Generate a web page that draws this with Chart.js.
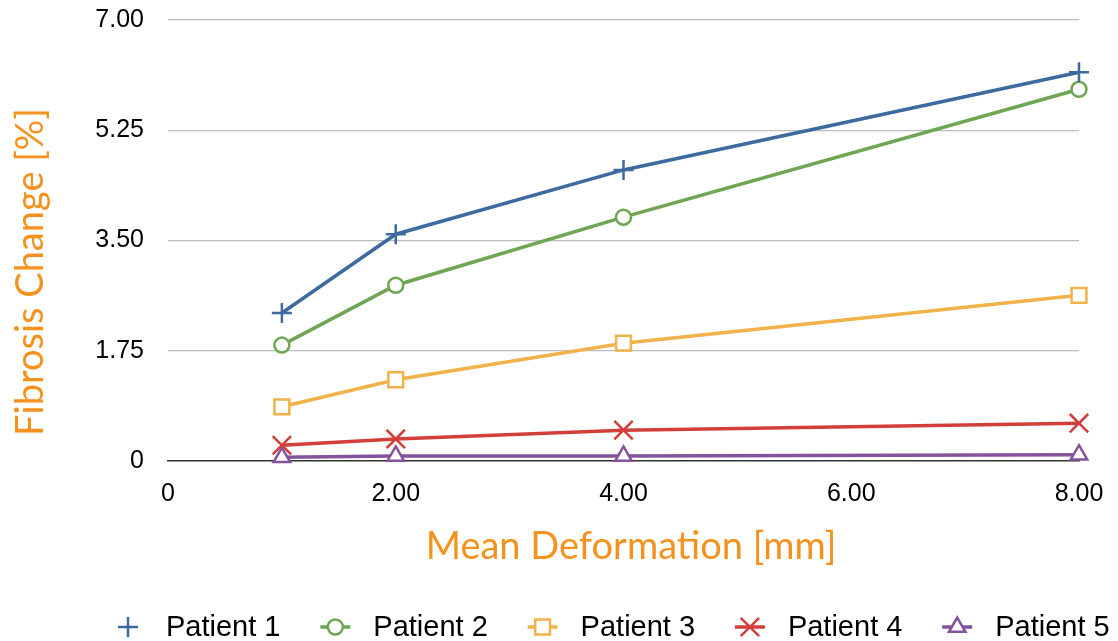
<!DOCTYPE html>
<html lang="en">
<head>
<meta charset="UTF-8">
<title>Fibrosis Change</title>
<style>
    html, body { margin: 0; padding: 0; background: #fff; }
    #wrap { width: 1118px; height: 641px; }
</style>
</head>
<body>
<div id="wrap"><canvas id="chart" width="1118" height="641"></canvas></div>

<script src="https://cdn.jsdelivr.net/npm/chart.js@4.4.1/dist/chart.umd.min.js"></script>
<script>
    // data
    const deformation = [1, 2, 4, 8];
    const patient1 = [2.35, 3.60, 4.62, 6.17];
    const patient2 = [1.84, 2.79, 3.87, 5.90];
    const patient3 = [0.86, 1.29, 1.87, 2.63];
    const patient4 = [0.25, 0.35, 0.49, 0.60];
    const patient5 = [0.06, 0.08, 0.08, 0.10];
    const seriesNames = ["Patient 1", "Patient 2", "Patient 3", "Patient 4", "Patient 5"];
    const yTicks = [0, 1.75, 3.5, 5.25, 7];
    const xTicks = [0, 2, 4, 6, 8];
    const xTitle = "Mean Deformation [mm]";
    const yTitle = "Fibrosis Change [%]";

    const colors = ["#3d6b9f", "#6ea653", "#f2b24a", "#d23e3a", "#84539b"];
    const styles = ["cross", "circle", "rect", "crossRot", "triangle"];
    const radii = [10, 7.5, 10.5, 13, 9.5];
    const titleColor = "#f5921e";

    const all = [patient1, patient2, patient3, patient4, patient5];

    function pts(vals) {
        return vals.map((v, i) => ({x: deformation[i], y: v}));
    }

    const datasets = all.map((vals, i) => ({
        label: seriesNames[i],
        data: pts(vals),
        borderColor: colors[i],
        backgroundColor: "#ffffff",
        borderWidth: 3.5,
        pointStyle: styles[i],
        pointRadius: radii[i],
        pointHoverRadius: radii[i],
        pointBorderColor: colors[i],
        pointBackgroundColor: "#ffffff",
        pointBorderWidth: 2.5,
        tension: 0,
        fill: false,
        clip: false
    }));

    // axis titles and the legend row, drawn on top
    const extras = {
        id: "extras",
        afterDraw(chart) {
            const ctx = chart.ctx;
            ctx.save();
            ctx.fillStyle = titleColor;
            ctx.font = "38px Lato";
            ctx.textAlign = "center";
            ctx.textBaseline = "middle";
            ctx.fillText(xTitle, 631, 547);
            ctx.save();
            ctx.translate(31, 272);
            ctx.rotate(-Math.PI / 2);
            ctx.fillText(yTitle, 0, 0);
            ctx.restore();

            const cy = 627;
            for (let i = 0; i < seriesNames.length; i++) {
                const cx = 128 + i * 207.3;
                if (styles[i] !== "cross") {
                    ctx.beginPath();
                    ctx.strokeStyle = colors[i];
                    ctx.lineWidth = 3.5;
                    ctx.moveTo(cx - 15, cy);
                    ctx.lineTo(cx + 15, cy);
                    ctx.stroke();
                }
                if (Chart.helpers && Chart.helpers.drawPoint) {
                    ctx.fillStyle = "#ffffff";
                    ctx.strokeStyle = colors[i];
                    ctx.lineWidth = 2.5;
                    Chart.helpers.drawPoint(ctx, {pointStyle: styles[i], radius: radii[i], borderWidth: 2.5, rotation: 0}, cx, cy);
                }
                ctx.fillStyle = "#000000";
                ctx.font = "29px 'Liberation Sans'";
                ctx.textAlign = "left";
                ctx.fillText(seriesNames[i], cx + 38, cy + 1);
            }
            ctx.restore();
        }
    };

    const ctx = document.getElementById("chart").getContext("2d");
    const myChart = new Chart(ctx, {
        type: "line",
        data: {datasets: datasets},
        options: {
            responsive: false,
            animation: false,
            layout: {padding: {left: 0, right: 39, top: 20, bottom: 0}},
            plugins: {
                legend: {display: false},
                tooltip: {enabled: false}
            },
            scales: {
                x: {
                    type: "linear",
                    min: 0,
                    max: 8,
                    afterBuildTicks: (s) => { s.ticks = xTicks.map(v => ({value: v})); },
                    afterFit: (s) => { s.height = 180; },
                    grid: {display: false},
                    border: {display: true, color: "#333333", width: 1.5},
                    ticks: {
                        color: "#000",
                        padding: 10,
                        font: {family: "Liberation Sans", size: 25},
                        maxRotation: 0,
                        callback: (v) => v === 0 ? "0" : v.toFixed(2)
                    }
                },
                y: {
                    min: 0,
                    max: 7,
                    afterBuildTicks: (s) => { s.ticks = yTicks.map(v => ({value: v})); },
                    afterFit: (s) => { s.width = 168; },
                    grid: {
                        color: (c) => c.tick && c.tick.value === 0 ? "rgba(0,0,0,0)" : "#bdbdbd",
                        lineWidth: 1.2,
                        drawTicks: true,
                        tickLength: 24,
                        tickColor: "rgba(0,0,0,0)"
                    },
                    border: {display: false},
                    ticks: {
                        color: "#000",
                        padding: 0,
                        font: {family: "Liberation Sans", size: 25},
                        callback: (v) => v === 0 ? "0" : v.toFixed(2)
                    }
                }
            }
        },
        plugins: [extras]
    });
</script>
</body>
</html>
